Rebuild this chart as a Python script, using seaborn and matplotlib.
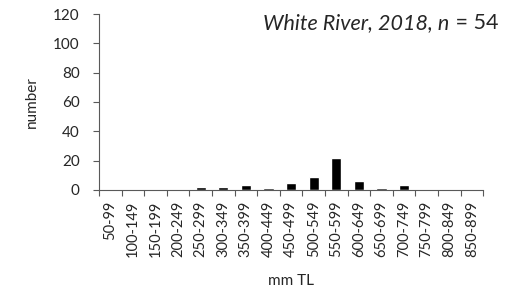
import matplotlib
matplotlib.use("Agg")
import matplotlib.pyplot as plt
import numpy as np
import pandas as pd
import seaborn as sns

# Length classes (mm TL) and fish counts, White River 2018
length_bins = ["50-99", "100-149", "150-199", "200-249", "250-299", "300-349",
               "350-399", "400-449", "450-499", "500-549", "550-599", "600-649",
               "650-699", "700-749", "750-799", "800-849", "850-899"]
counts = [0, 0, 0, 0, 2, 2, 3, 1, 5, 9, 22, 6, 1, 3, 0, 0, 0]
y_ticks = [0, 20, 40, 60, 80, 100, 120]

sns.set_style("white")
plt.rcParams["font.family"] = ["Lato", "DejaVu Sans"]

df = pd.DataFrame({"bin": length_bins, "count": counts})

fig = plt.figure(figsize=(5.08, 2.93), dpi=100)
ax = fig.add_axes([0.195, 0.352, 0.756, 0.600])

sns.barplot(data=df, x="bin", y="count", color="black", width=0.45,
            saturation=1, ax=ax)

ax.set_ylim(0, 120)
ax.set_yticks(y_ticks)
ax.set_xlim(-0.5, len(length_bins) - 0.5)
ax.tick_params(axis="y", labelsize=11, length=4, width=0.8, color="#595959",
               direction="out", left=True, pad=10)
ax.tick_params(axis="x", which="major", labelsize=10.5, length=0, rotation=90, pad=8)
ax.set_xticks(np.arange(-0.5, len(length_bins)), minor=True)
ax.tick_params(axis="x", which="minor", length=4, width=0.8, color="#595959",
               direction="out", bottom=True)

for side in ["top", "right"]:
    ax.spines[side].set_visible(False)
for side in ["left", "bottom"]:
    ax.spines[side].set_color("#595959")
    ax.spines[side].set_linewidth(0.8)

ax.set_xlabel("mm TL", fontsize=11, labelpad=12)
ax.set_ylabel("number", fontsize=11, labelpad=10)

# annotation: italic text with upright "= 54"
t = fig.text(498 / 508, 1 - 23 / 293, " = 54", fontsize=15.5, ha="right", va="center")
ax.annotate("White River, 2018, n", xy=(0, 0.5), xycoords=t, fontsize=15.5,
            style="italic", ha="right", va="center")

fig.savefig("out.png", dpi=100)
